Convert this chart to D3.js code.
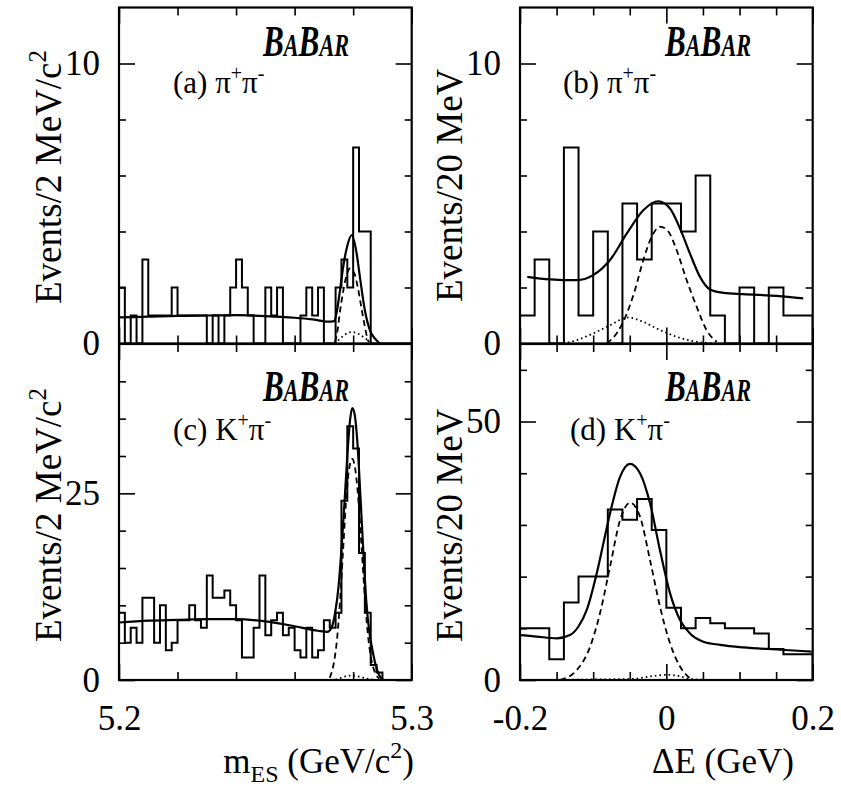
<!DOCTYPE html>
<html>
<head>
<meta charset="utf-8">
<script src="https://cdn.jsdelivr.net/npm/d3@7"></script>
<style>
  html, body { margin: 0; padding: 0; background: #fff; }
  svg { display: block; }
  text { font-family: "Liberation Serif", "Times New Roman", Times, serif; fill: #000; }
</style>
</head>
<body>
<svg id="chart" width="841" height="786"></svg>
<script>
// ---------------- data ----------------
// m_ES histograms: 2 MeV/c^2 bins from 5.200 to 5.300 GeV/c^2
const mesRange = [5.2, 5.3];
const mesBinWidth = 0.002;
const countsPiPiMes = [2,0,1,0,3,1,1,1,1,2, 1,1,1,1,1,0,1,0,1,2, 3,2,1,0,0,2,1,2,0,0,
                       0,1,2,1,2,0,0,2,3,2, 7,4,4,0,0,0,0,0,0,0];
const countsKPiMes  = [9,5,7,5,11,11,5,10,4,5, 8,8,10,8,7,14,11,11,12,10, 8,3,3,7,14,6,8,9,6,7,
                       4,3,7,3,4,8,7,9,24,34, 31,17,9,2,1,0,0,0,0,0];

// Delta E histograms: 20 MeV bins from -0.2 to 0.2 GeV
const deRange = [-0.2, 0.2];
const deBinWidth = 0.02;
const countsPiPiDE = [1,3,0,7,1,4,0,5,3,5, 5,4,6,1,0,2,0,2,1,1];
const countsKPiDE  = [10,10,4,15,20,20,33,31,35,29, 14,10,12,11,10,10,9,6,5,5];

// fit projections, [x, events per bin]
const fitTotalPiPiMes = [[5.2000,0.93],[5.2100,0.96],[5.2200,0.99],[5.2300,1.00],[5.2400,1.01],[5.2500,0.98],
  [5.2600,0.92],[5.2660,0.86],[5.2715,0.78],[5.2735,0.80],[5.2744,1.13],[5.2755,1.9],[5.2766,2.74],
  [5.2778,3.4],[5.2795,3.87],[5.2812,3.21],[5.2823,2.38],[5.2840,1.19],[5.2857,0.48],[5.2874,0.18],[5.2891,0.0]];
const fitSignalPiPiMes = [[5.2738,0.05],[5.2747,0.5],[5.2755,1.15],[5.2764,1.75],[5.2772,2.2],[5.2781,2.55],
  [5.2789,2.68],[5.2797,2.62],[5.2806,2.45],[5.2815,2.05],[5.2823,1.6],[5.2832,1.05],[5.2840,0.6],
  [5.2847,0.25],[5.2853,0.05]];
const fitCrossPiPiMes = [[5.2735,0.02],[5.2750,0.12],[5.2765,0.26],[5.2780,0.37],[5.2795,0.41],[5.2810,0.38],
  [5.2825,0.30],[5.2840,0.19],[5.2855,0.09],[5.2870,0.02]];

const fitTotalKPiMes = [[5.2000,7.7],[5.2100,7.95],[5.2200,8.05],[5.2300,8.15],[5.2400,8.15],[5.2500,7.85],
  [5.2600,7.2],[5.2680,6.6],[5.2712,6.45],[5.2726,7.0],[5.2738,8.9],[5.2750,12.5],[5.2760,17.5],
  [5.2770,23.5],[5.2780,30.0],[5.2790,35.0],[5.2797,36.4],[5.2805,35.6],[5.2815,31.5],[5.2825,24.5],
  [5.2835,17.0],[5.2845,10.5],[5.2855,6.5],[5.2865,4.2],[5.2875,2.3],[5.2885,1.0],[5.2895,0.3],[5.2903,0.0]];
const fitSignalKPiMes = [[5.2720,0.3],[5.2735,2.5],[5.2745,5.5],[5.2755,10.5],[5.2765,17.0],[5.2775,23.5],
  [5.2785,28.0],[5.2797,29.6],[5.2808,28.0],[5.2820,23.0],[5.2830,17.0],[5.2840,11.0],[5.2850,6.2],
  [5.2860,3.2],[5.2870,1.5],[5.2880,0.6],[5.2890,0.2]];
const fitCrossKPiMes = [[5.2740,0.05],[5.2760,0.3],[5.2780,0.55],[5.2795,0.6],[5.2810,0.55],[5.2830,0.35],
  [5.2850,0.15],[5.2870,0.05]];

const fitTotalPiPiDE = [[-0.190,2.38],[-0.159,2.29],[-0.1225,2.26],[-0.100,2.44],[-0.077,2.98],[-0.054,3.93],
  [-0.0315,4.76],[-0.011,5.08],[0.005,4.82],[0.0196,4.05],[0.0323,3.21],[0.046,2.38],[0.0597,1.93],
  [0.078,1.81],[0.105,1.76],[0.151,1.70],[0.187,1.61]];
const fitSignalPiPiDE = [[-0.0815,0.0],[-0.068,0.36],[-0.054,1.07],[-0.043,1.9],[-0.0315,2.98],[-0.020,3.81],
  [-0.0087,4.17],[0.0027,4.0],[0.0141,3.33],[0.0278,2.26],[0.0415,1.31],[0.055,0.48],[0.0688,0.06]];
const fitCrossPiPiDE = [[-0.1408,0.0],[-0.1225,0.12],[-0.100,0.36],[-0.077,0.65],[-0.052,0.93],[-0.0315,0.77],
  [-0.0087,0.48],[0.0141,0.24],[0.0415,0.06],[0.0688,0.0]];

const fitTotalKPiDE = [[-0.2,8.7],[-0.1772,8.4],[-0.1498,8.06],[-0.1317,8.7],[-0.1203,10.3],[-0.1089,13.5],
  [-0.0952,20.6],[-0.0861,26.4],[-0.077,32.2],[-0.0633,39.3],[-0.0497,41.8],[-0.036,40.0],[-0.0223,34.2],
  [-0.0087,25.1],[0.005,16.8],[0.0187,11.6],[0.0323,9.0],[0.0505,7.4],[0.0733,6.8],[0.1052,6.3],
  [0.1508,5.9],[0.1986,5.5]];
const fitSignalKPiDE = [[-0.1453,0.0],[-0.1225,1.9],[-0.1043,6.4],[-0.0907,12.9],[-0.077,21.9],[-0.0633,30.9],
  [-0.0497,34.3],[-0.036,31.6],[-0.0223,23.2],[-0.0087,14.2],[0.005,7.1],[0.0187,2.6],[0.0323,0.3]];
const fitCrossKPiDE = [[-0.16,0.0],[-0.10,0.1],[-0.0451,0.2],[-0.0223,0.7],[0.0005,1.0],[0.0187,0.7],
  [0.0323,0.2],[0.06,0.0]];

// axis ticks and labels
const mesMajorTicks = [5.2, 5.3];
const mesMinorTicks = [5.22, 5.24, 5.26, 5.28];
const mesTickLabels = ["5.2", "5.3"];
const deMajorTicks = [-0.2, 0, 0.2];
const deMinorTicks = [-0.15, -0.1, -0.05, 0.05, 0.1, 0.15];
const deTickLabels = ["-0.2", "0", "0.2"];
const yMajorPiPi = [0, 10];
const yMinorPiPi = [2, 4, 6, 8];
const yMajorKPiMes = [0, 25];
const yMinorKPiMes = [5, 10, 15, 20, 30, 35, 40];
const yMajorKPiDE = [0, 50];
const yMinorKPiDE = [10, 20, 30, 40, 60];
const yMaxPiPi = 12, yMaxKPiMes = 45, yMaxKPiDE = 65;

// ---------------- layout ----------------
const svg = d3.select("#chart");
const colL = [119, 411.7], colR = [520, 812.7];
const rowT = [343.5, 7.5], rowB = [680, 344];

const xMes = d3.scaleLinear().domain(mesRange).range(colL);
const xDE  = d3.scaleLinear().domain(deRange).range(colR);

const panels = [
  { key: "a", x: xMes, y: d3.scaleLinear().domain([0, yMaxPiPi]).range(rowT), counts: countsPiPiMes,
    lo: mesRange[0], bw: mesBinWidth, total: fitTotalPiPiMes, sig: fitSignalPiPiMes, cross: fitCrossPiPiMes,
    xMaj: mesMajorTicks, xMin: mesMinorTicks, yMaj: yMajorPiPi, yMin: yMinorPiPi, xLabels: null,
    tag: ["(a) ", "π", "π"], tagPos: [173, 93], logoPos: [263, 56] },
  { key: "b", x: xDE, y: d3.scaleLinear().domain([0, yMaxPiPi]).range(rowT), counts: countsPiPiDE,
    lo: deRange[0], bw: deBinWidth, total: fitTotalPiPiDE, sig: fitSignalPiPiDE, cross: fitCrossPiPiDE,
    xMaj: deMajorTicks, xMin: deMinorTicks, yMaj: yMajorPiPi, yMin: yMinorPiPi, xLabels: null,
    tag: ["(b) ", "π", "π"], tagPos: [563, 93], logoPos: [665, 56] },
  { key: "c", x: xMes, y: d3.scaleLinear().domain([0, yMaxKPiMes]).range(rowB), counts: countsKPiMes,
    lo: mesRange[0], bw: mesBinWidth, total: fitTotalKPiMes, sig: fitSignalKPiMes, cross: fitCrossKPiMes,
    xMaj: mesMajorTicks, xMin: mesMinorTicks, yMaj: yMajorKPiMes, yMin: yMinorKPiMes, xLabels: mesTickLabels,
    tag: ["(c) ", "K", "π"], tagPos: [173, 440], logoPos: [263, 401] },
  { key: "d", x: xDE, y: d3.scaleLinear().domain([0, yMaxKPiDE]).range(rowB), counts: countsKPiDE,
    lo: deRange[0], bw: deBinWidth, total: fitTotalKPiDE, sig: fitSignalKPiDE, cross: fitCrossKPiDE,
    xMaj: deMajorTicks, xMin: deMinorTicks, yMaj: yMajorKPiDE, yMin: yMinorKPiDE, xLabels: deTickLabels,
    tag: ["(d) ", "K", "π"], tagPos: [570, 440], logoPos: [665, 401] }
];

const defs = svg.append("defs");

function stepPoints(p) {
  const pts = [[p.lo, 0]];
  p.counts.forEach((c, i) => {
    pts.push([p.lo + i * p.bw, c]);
    pts.push([p.lo + (i + 1) * p.bw, c]);
  });
  pts.push([p.lo + p.counts.length * p.bw, 0]);
  return pts;
}

function styleAxis(g, fontSize) {
  g.select(".domain").remove();
  g.attr("font-family", null).attr("font-size", null);
  g.selectAll("line").attr("stroke", "#000").attr("stroke-width", 1.6);
  g.selectAll("text").style("font-size", fontSize + "px");
}

panels.forEach(p => {
  const [x0, x1] = p.x.range();
  const [yb, yt] = p.y.range();
  const g = svg.append("g").attr("class", "panel-" + p.key);

  defs.append("clipPath").attr("id", "clip-" + p.key)
    .append("rect").attr("x", x0).attr("y", yt).attr("width", x1 - x0).attr("height", yb - yt);

  const plot = g.append("g").attr("clip-path", `url(#clip-${p.key})`);

  // histogram outline
  const step = d3.line().x(d => p.x(d[0])).y(d => p.y(d[1]));
  plot.append("path").datum(stepPoints(p))
    .attr("fill", "none").attr("stroke", "#000").attr("stroke-width", 2)
    .attr("stroke-linejoin", "miter").attr("d", step);

  // fit projections
  const curve = d3.line().x(d => p.x(d[0])).y(d => p.y(d[1])).curve(d3.curveMonotoneX);
  plot.append("path").datum(p.cross)
    .attr("fill", "none").attr("stroke", "#000").attr("stroke-width", 1.8)
    .attr("stroke-dasharray", "1.6,3").attr("d", curve);
  plot.append("path").datum(p.sig)
    .attr("fill", "none").attr("stroke", "#000").attr("stroke-width", 1.8)
    .attr("stroke-dasharray", "6,4").attr("d", curve);
  plot.append("path").datum(p.total)
    .attr("fill", "none").attr("stroke", "#000").attr("stroke-width", 2.2).attr("d", curve);

  // axes: major/minor ticks pointing inwards on all four sides
  const left = g.append("g").attr("transform", `translate(${x0},0)`);
  left.append("g").call(d3.axisLeft(p.y).tickValues(p.yMaj).tickSize(-16).tickPadding(19)
      .tickFormat(d3.format("d"))).call(a => styleAxis(a, 35));
  left.append("g").call(d3.axisLeft(p.y).tickValues(p.yMin).tickSize(-7).tickFormat(""))
      .call(a => styleAxis(a, 35));

  const right = g.append("g").attr("transform", `translate(${x1},0)`);
  right.append("g").call(d3.axisRight(p.y).tickValues(p.yMaj).tickSize(-16).tickFormat(""))
      .call(a => styleAxis(a, 35));
  right.append("g").call(d3.axisRight(p.y).tickValues(p.yMin).tickSize(-7).tickFormat(""))
      .call(a => styleAxis(a, 35));

  const top = g.append("g").attr("transform", `translate(0,${yt})`);
  top.append("g").call(d3.axisTop(p.x).tickValues(p.xMaj).tickSize(-16).tickFormat(""))
      .call(a => styleAxis(a, 35));
  top.append("g").call(d3.axisTop(p.x).tickValues(p.xMin).tickSize(-8).tickFormat(""))
      .call(a => styleAxis(a, 35));

  const bottom = g.append("g").attr("transform", `translate(0,${yb})`);
  const fmt = p.xLabels ? ((d, i) => p.xLabels[i]) : "";
  bottom.append("g").call(d3.axisBottom(p.x).tickValues(p.xMaj).tickSize(-16).tickPadding(25)
      .tickFormat(fmt)).call(a => styleAxis(a, 35));
  bottom.append("g").call(d3.axisBottom(p.x).tickValues(p.xMin).tickSize(-8).tickFormat(""))
      .call(a => styleAxis(a, 35));

  // frame
  g.append("rect").attr("x", x0).attr("y", yt).attr("width", x1 - x0).attr("height", yb - yt)
    .attr("fill", "none").attr("stroke", "#000").attr("stroke-width", 2.2);

  // channel tag, e.g. (a) pi+ pi-
  const tag = g.append("text").attr("x", p.tagPos[0]).attr("y", p.tagPos[1]).style("font-size", "31px");
  tag.append("tspan").text(p.tag[0] + p.tag[1]);
  tag.append("tspan").attr("dy", -13).style("font-size", "20px").text("+");
  tag.append("tspan").attr("dy", 13).text(p.tag[2]);
  tag.append("tspan").attr("dy", -13).style("font-size", "20px").text("-");

  // experiment logo in bold italic small capitals, squeezed to its printed width
  g.append("text").attr("x", p.logoPos[0]).attr("y", p.logoPos[1])
    .attr("textLength", 86).attr("lengthAdjust", "spacingAndGlyphs")
    .style("font-size", "45px").style("font-weight", "bold").style("font-style", "italic")
    .style("font-variant", "small-caps").text("BaBar");
});

// axis titles
function yTitle(x, y, main, sup) {
  const t = svg.append("text").attr("transform", `translate(${x},${y}) rotate(-90)`)
    .style("font-size", "37px");
  t.append("tspan").text(main);
  if (sup) t.append("tspan").attr("dy", -15).style("font-size", "25px").text(sup);
}
yTitle(61, 304, "Events/2 MeV/c", "2");
yTitle(61, 642, "Events/2 MeV/c", "2");
yTitle(462, 302, "Events/20 MeV", null);
yTitle(462, 642, "Events/20 MeV", null);

const xt1 = svg.append("text").attr("x", 414).attr("y", 773).attr("text-anchor", "end").style("font-size", "35px");
xt1.append("tspan").text("m");
xt1.append("tspan").attr("dy", 9).style("font-size", "24px").text("ES");
xt1.append("tspan").attr("dy", -9).text(" (GeV/c");
xt1.append("tspan").attr("dy", -15).style("font-size", "24px").text("2");
xt1.append("tspan").attr("dy", 15).text(")");

svg.append("text").attr("x", 794).attr("y", 773).attr("text-anchor", "end")
  .style("font-size", "35px").text("ΔE (GeV)");
</script>
</body>
</html>
